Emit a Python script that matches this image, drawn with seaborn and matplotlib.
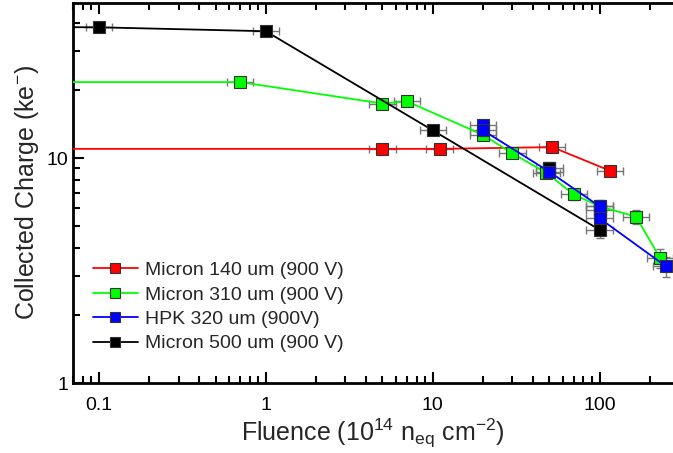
import matplotlib
matplotlib.use("Agg")
import matplotlib.pyplot as plt
import seaborn as sns
import pandas as pd
import numpy as np
from matplotlib.ticker import LogLocator, NullFormatter, FixedLocator, FixedFormatter

# ---- data ----
red_label = "Micron 140 um (900 V)"
red_x = [0.01, 5, 11, 52, 115]
red_y = [11.0, 11.0, 11.0, 11.2, 8.8]
red_yerr = [0.0, 0.4, 0.4, 0.4, 0.4]

green_label = "Micron 310 um (900 V)"
green_x = [0.01, 0.7, 5, 7, 20, 30, 48, 70, 100, 165, 230]
green_y = [21.8, 21.8, 17.5, 17.9, 12.7, 10.5, 8.6, 6.9, 6.1, 5.5, 3.6]
green_yerr = [0.0, 0.6, 0.6, 0.6, 0.5, 0.4, 0.4, 0.4, 0.3, 0.4, 0.35]

blue_label = "HPK 320 um (900V)"
blue_x = [20, 20, 50, 100, 100, 250]
blue_y = [14.0, 13.3, 8.7, 6.1, 5.4, 3.3]
blue_yerr = [0.5, 0.5, 0.4, 0.4, 0.3, 0.35]

black_label = "Micron 500 um (900 V)"
black_x = [0.01, 0.1, 1, 10, 100]
black_y = [38.5, 38.2, 36.7, 13.3, 4.8]
black_yerr = [0.0, 0.6, 0.6, 0.5, 0.4]

black_extra_x = [50, 100]
black_extra_y = [9.0, 5.9]
black_extra_yerr = [0.4, 0.4]

xerr_rel = 0.2
x_ticks = [0.1, 1, 10, 100]
x_ticklabels = ["0.1", "1", "10", "100"]
y_ticks = [1, 10]
y_ticklabels = ["1", "10"]

sns.set_style("ticks")
plt.rcParams['font.family'] = ['Liberation Sans', 'DejaVu Sans']
plt.rcParams['mathtext.fontset'] = 'custom'
plt.rcParams['mathtext.rm'] = 'Liberation Sans'
plt.rcParams['mathtext.it'] = 'Liberation Sans'

fig = plt.figure(figsize=(6.73, 4.53), dpi=100)
ax = fig.add_axes([73/673, 70/453, 600/673, 380/453])

series = [
    (red_label, red_x, red_y, red_yerr, "#ff0000"),
    (green_label, green_x, green_y, green_yerr, "#00ff00"),
    (blue_label, blue_x, blue_y, blue_yerr, "#0000ff"),
    (black_label, black_x, black_y, black_yerr, "#000000"),
]

def draw_err(x, y, yerr):
    x = np.asarray(x, float); y = np.asarray(y, float)
    xe = np.vstack([x - x / (1 + xerr_rel), x * xerr_rel])
    ax.errorbar(x, y, xerr=xe, yerr=yerr, fmt='none', ecolor='#777777',
                elinewidth=1.0, capsize=3, capthick=1.0, zorder=2)

for label, x, y, yerr, c in series:
    draw_err(x[1:] if x[0] == 0.01 else x, y[1:] if x[0] == 0.01 else y,
             yerr[1:] if x[0] == 0.01 else yerr)

draw_err(black_extra_x, black_extra_y, black_extra_yerr)
ax.plot(black_extra_x, black_extra_y, 's', color='#000000', markersize=8.5,
        markeredgecolor='#333333', zorder=3)

for label, x, y, yerr, c in series:
    df = pd.DataFrame({"x": x, "y": y})
    sns.lineplot(data=df, x="x", y="y", ax=ax, color=c, sort=False,
                 estimator=None, marker='s', markersize=8.5,
                 markeredgecolor='#333333', markeredgewidth=0.8,
                 linewidth=1.3, label=label, zorder=4)

ax.set_xscale('log')
ax.set_yscale('log')
ax.set_xlim(0.07, 275)
ax.set_ylim(1, 49)

ax.xaxis.set_major_locator(FixedLocator(x_ticks))
ax.xaxis.set_major_formatter(FixedFormatter(x_ticklabels))
ax.xaxis.set_minor_locator(LogLocator(base=10, subs=np.arange(2, 10), numticks=20))
ax.xaxis.set_minor_formatter(NullFormatter())
ax.yaxis.set_major_locator(FixedLocator(y_ticks))
ax.yaxis.set_major_formatter(FixedFormatter(y_ticklabels))
ax.yaxis.set_minor_locator(LogLocator(base=10, subs=np.arange(2, 10), numticks=20))
ax.yaxis.set_minor_formatter(NullFormatter())

ax.tick_params(which='both', direction='in', top=True, right=False,
               width=1.5, colors='black', labelsize=14)
ax.tick_params(which='major', length=8)
ax.tick_params(which='minor', length=5)
ax.tick_params(axis='x', pad=10)
for s in ['left', 'bottom', 'top']:
    ax.spines[s].set_linewidth(2)
    ax.spines[s].set_color('black')
ax.spines['right'].set_visible(False)

ax.set_xlabel(r"Fluence (10$^{14}$ n$_{\mathrm{eq}}$ cm$^{-2}$)", fontsize=18, labelpad=2)
ax.set_ylabel(r"Collected Charge (ke$^{\mathrm{-}}$)", fontsize=18, labelpad=4)

leg = ax.legend(loc='lower left', bbox_to_anchor=(0.02, 0.06), frameon=False,
                fontsize=14, handlelength=2.3, labelspacing=0.35,
                handletextpad=0.4, borderaxespad=0, markerscale=0.8)

fig.savefig("out.png", dpi=100)
